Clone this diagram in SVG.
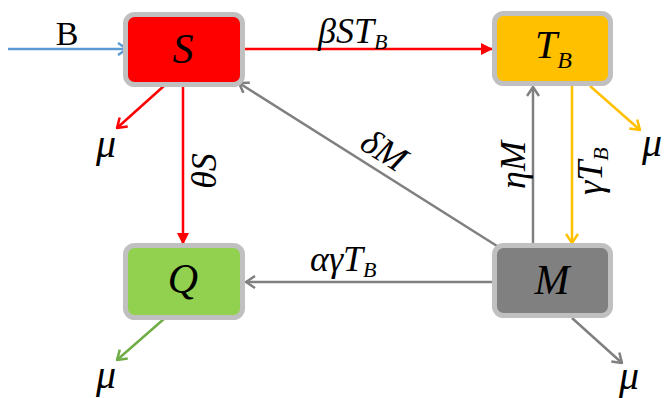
<svg xmlns="http://www.w3.org/2000/svg" width="664" height="398" viewBox="0 0 664 398">
<style>
.box{stroke:#C0C0C0;stroke-width:5}
.t{font-family:"Liberation Serif","Times New Roman",serif;font-style:italic;fill:#000}
.node{font-size:42px;text-anchor:middle}
.lbl{font-size:36px}
.mu{font-size:40px;text-anchor:middle}
.e{fill:none;stroke-width:2.5}
</style>
<defs>
<marker id="aBlue" viewBox="0 0 12 14" refX="11" refY="7" markerWidth="12" markerHeight="14" markerUnits="userSpaceOnUse" orient="auto"><path d="M2,1 L11,7 L2,13" fill="none" stroke="#5B9BD5" stroke-width="2.5"/></marker>
<marker id="aRed" viewBox="0 0 12 14" refX="11" refY="7" markerWidth="12" markerHeight="14" markerUnits="userSpaceOnUse" orient="auto"><path d="M2,1 L11,7 L2,13" fill="none" stroke="#FF0000" stroke-width="2.5"/></marker>
<marker id="aRedF" viewBox="0 0 12 12" refX="12" refY="6" markerWidth="12" markerHeight="12" markerUnits="userSpaceOnUse" orient="auto"><path d="M0,0 L12,6 L0,12 z" fill="#FF0000"/></marker>
<marker id="aGray" viewBox="0 0 12 14" refX="11" refY="7" markerWidth="12" markerHeight="14" markerUnits="userSpaceOnUse" orient="auto"><path d="M2,1 L11,7 L2,13" fill="none" stroke="#808080" stroke-width="2.5"/></marker>
<marker id="aYel" viewBox="0 0 12 14" refX="11" refY="7" markerWidth="12" markerHeight="14" markerUnits="userSpaceOnUse" orient="auto"><path d="M2,1 L11,7 L2,13" fill="none" stroke="#FFC000" stroke-width="2.5"/></marker>
<marker id="aGrn" viewBox="0 0 12 14" refX="11" refY="7" markerWidth="12" markerHeight="14" markerUnits="userSpaceOnUse" orient="auto"><path d="M2,1 L11,7 L2,13" fill="none" stroke="#70AD47" stroke-width="2.5"/></marker>
</defs>
<rect width="664" height="398" fill="#FFFFFF"/>
<g id="connectors">
<line class="e" x1="8" y1="49" x2="127" y2="49" stroke="#5B9BD5" marker-end="url(#aBlue)"/>
<line class="e" x1="245" y1="49" x2="493" y2="49" stroke="#FF0000" marker-end="url(#aRedF)"/>
<line class="e" x1="165" y1="85" x2="117" y2="128" stroke="#FF0000" marker-end="url(#aRed)"/>
<line class="e" x1="183" y1="85" x2="183" y2="245" stroke="#FF0000" marker-end="url(#aRedF)"/>
<line class="e" x1="497" y1="246" x2="239" y2="83" stroke="#808080" marker-end="url(#aGray)"/>
<line class="e" x1="533" y1="243" x2="533" y2="87" stroke="#808080" marker-end="url(#aGray)"/>
<line class="e" x1="572" y1="86" x2="572" y2="243" stroke="#FFC000" marker-end="url(#aYel)"/>
<line class="e" x1="590" y1="86" x2="640" y2="130" stroke="#FFC000" marker-end="url(#aYel)"/>
<line class="e" x1="492" y1="282" x2="246" y2="282" stroke="#808080" marker-end="url(#aGray)"/>
<line class="e" x1="165" y1="318" x2="117" y2="360" stroke="#70AD47" marker-end="url(#aGrn)"/>
<line class="e" x1="572" y1="318" x2="622" y2="363" stroke="#808080" marker-end="url(#aGray)"/>
</g>
<g id="labels">
<text x="67" y="45" font-family="Liberation Serif, Times New Roman, serif" font-size="34" text-anchor="middle">B</text>
<text class="t lbl" x="318" y="43">βST<tspan dy="6" font-size="22">B</tspan></text>
<text class="t lbl" x="310" y="271">αγT<tspan dy="6" font-size="22">B</tspan></text>
<text class="t lbl" transform="translate(216,171) rotate(-90)" text-anchor="middle">θS</text>
<text class="t lbl" transform="translate(525,165) rotate(-90)" text-anchor="middle">ηM</text>
<text class="t lbl" transform="translate(602,195) rotate(-90)">γT<tspan dy="6" font-size="22">B</tspan></text>
<text class="t lbl" transform="translate(377.6,160.4) rotate(32.5)" text-anchor="middle">δM</text>
<text class="t mu" x="106" y="157">μ</text>
<text class="t mu" x="652" y="156">μ</text>
<text class="t mu" x="106" y="388">μ</text>
<text class="t mu" x="629" y="389">μ</text>
</g>
<g id="node-S">
<rect class="box" x="125.5" y="14.5" width="117" height="70" rx="9" fill="#FF0000"/>
<text class="t node" x="183" y="63" font-size="44">S</text>
</g>
<g id="node-TB">
<rect class="box" x="494.5" y="13.5" width="116" height="70" rx="9" fill="#FFC000"/>
<text class="t" x="535" y="58" font-size="40">T<tspan font-size="24" dy="10">B</tspan></text>
</g>
<g id="node-Q">
<rect class="box" x="125.5" y="245.5" width="117" height="72" rx="9" fill="#92D050"/>
<text class="t node" x="183" y="293">Q</text>
</g>
<g id="node-M">
<rect class="box" x="494.5" y="245.5" width="116" height="70" rx="9" fill="#808080"/>
<text class="t node" x="552" y="294">M</text>
</g>
</svg>
